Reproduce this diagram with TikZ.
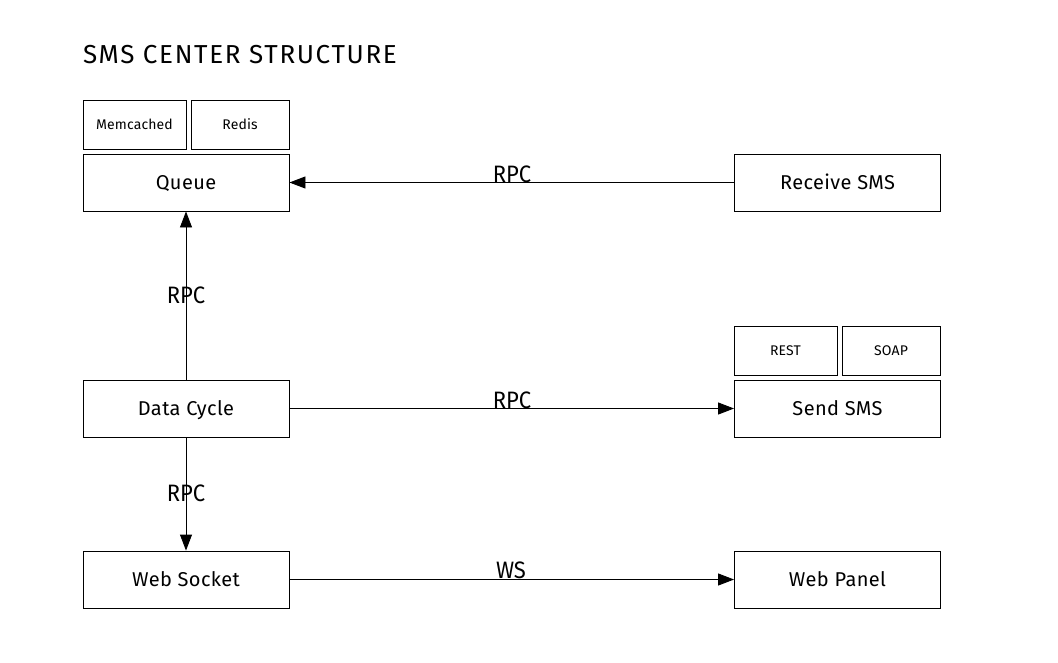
\documentclass[tikz,border=0pt]{standalone}
\usepackage{fontspec}
\setmainfont{Fira Sans}
\usetikzlibrary{arrows.meta}
\begin{document}
\begin{tikzpicture}[x=1pt,y=-1pt,
  box/.style={draw=black,line width=0.9pt,rectangle,inner sep=0pt,text depth=0pt},
  big/.style={box,minimum width=206pt,minimum height=57pt,text height=14pt,font=\fontsize{20}{24}\selectfont\addfontfeature{LetterSpace=2}},
  small/.style={box,minimum height=49pt,text height=9.6pt,font=\fontsize{14}{16}\selectfont\addfontfeature{LetterSpace=1}},
  lbl/.style={font=\fontsize{22}{26}\selectfont,inner sep=0pt},
  conn/.style={line width=0.9pt,-{Triangle[length=16pt,width=12pt]}}]
\useasboundingbox (0,0) rectangle (1058,662);
\node[anchor=base west,inner sep=0pt,font=\fontsize{26}{30}\selectfont\addfontfeature{LetterSpace=6.4}] (title) at (83,63) {SMS CENTER STRUCTURE};
\node[small,minimum width=103pt] (mem) at (134.5,124.5) {Memcached};
\node[small,minimum width=98pt] (redis) at (240,124.5) {Redis};
\node[big] (queue) at (186,182.5) {Queue};
\node[big] (recv) at (837.5,182.5) {Receive SMS};
\node[small,minimum width=103pt] (rest) at (785.5,350.5) {REST};
\node[small,minimum width=98pt] (soap) at (891,350.5) {SOAP};
\node[big] (send) at (837.5,408.5) {Send SMS};
\node[big] (data) at (186,408.5) {Data Cycle};
\node[big] (ws) at (186,579.5) {Web Socket};
\node[big] (panel) at (837.5,579.5) {Web Panel};
\draw[conn] (recv.west) -- (queue.east);
\draw[conn] (data.north) -- (queue.south);
\draw[conn] (data.east) -- (send.west);
\draw[conn] (data.south) -- (ws.north);
\draw[conn] (ws.east) -- (panel.west);
\node[lbl,anchor=base] (l1) at (512,182) {\scalebox{1}[1.08]{RPC}};
\node[lbl] (l2) at (186,295) {\scalebox{1}[1.08]{RPC}};
\node[lbl,anchor=base] (l3) at (512,408) {\scalebox{1}[1.08]{RPC}};
\node[lbl] (l4) at (186,493) {\scalebox{1}[1.08]{RPC}};
\node[lbl,anchor=base] (l5) at (511,578) {\scalebox{1}[1.08]{WS}};
\end{tikzpicture}
\end{document}
